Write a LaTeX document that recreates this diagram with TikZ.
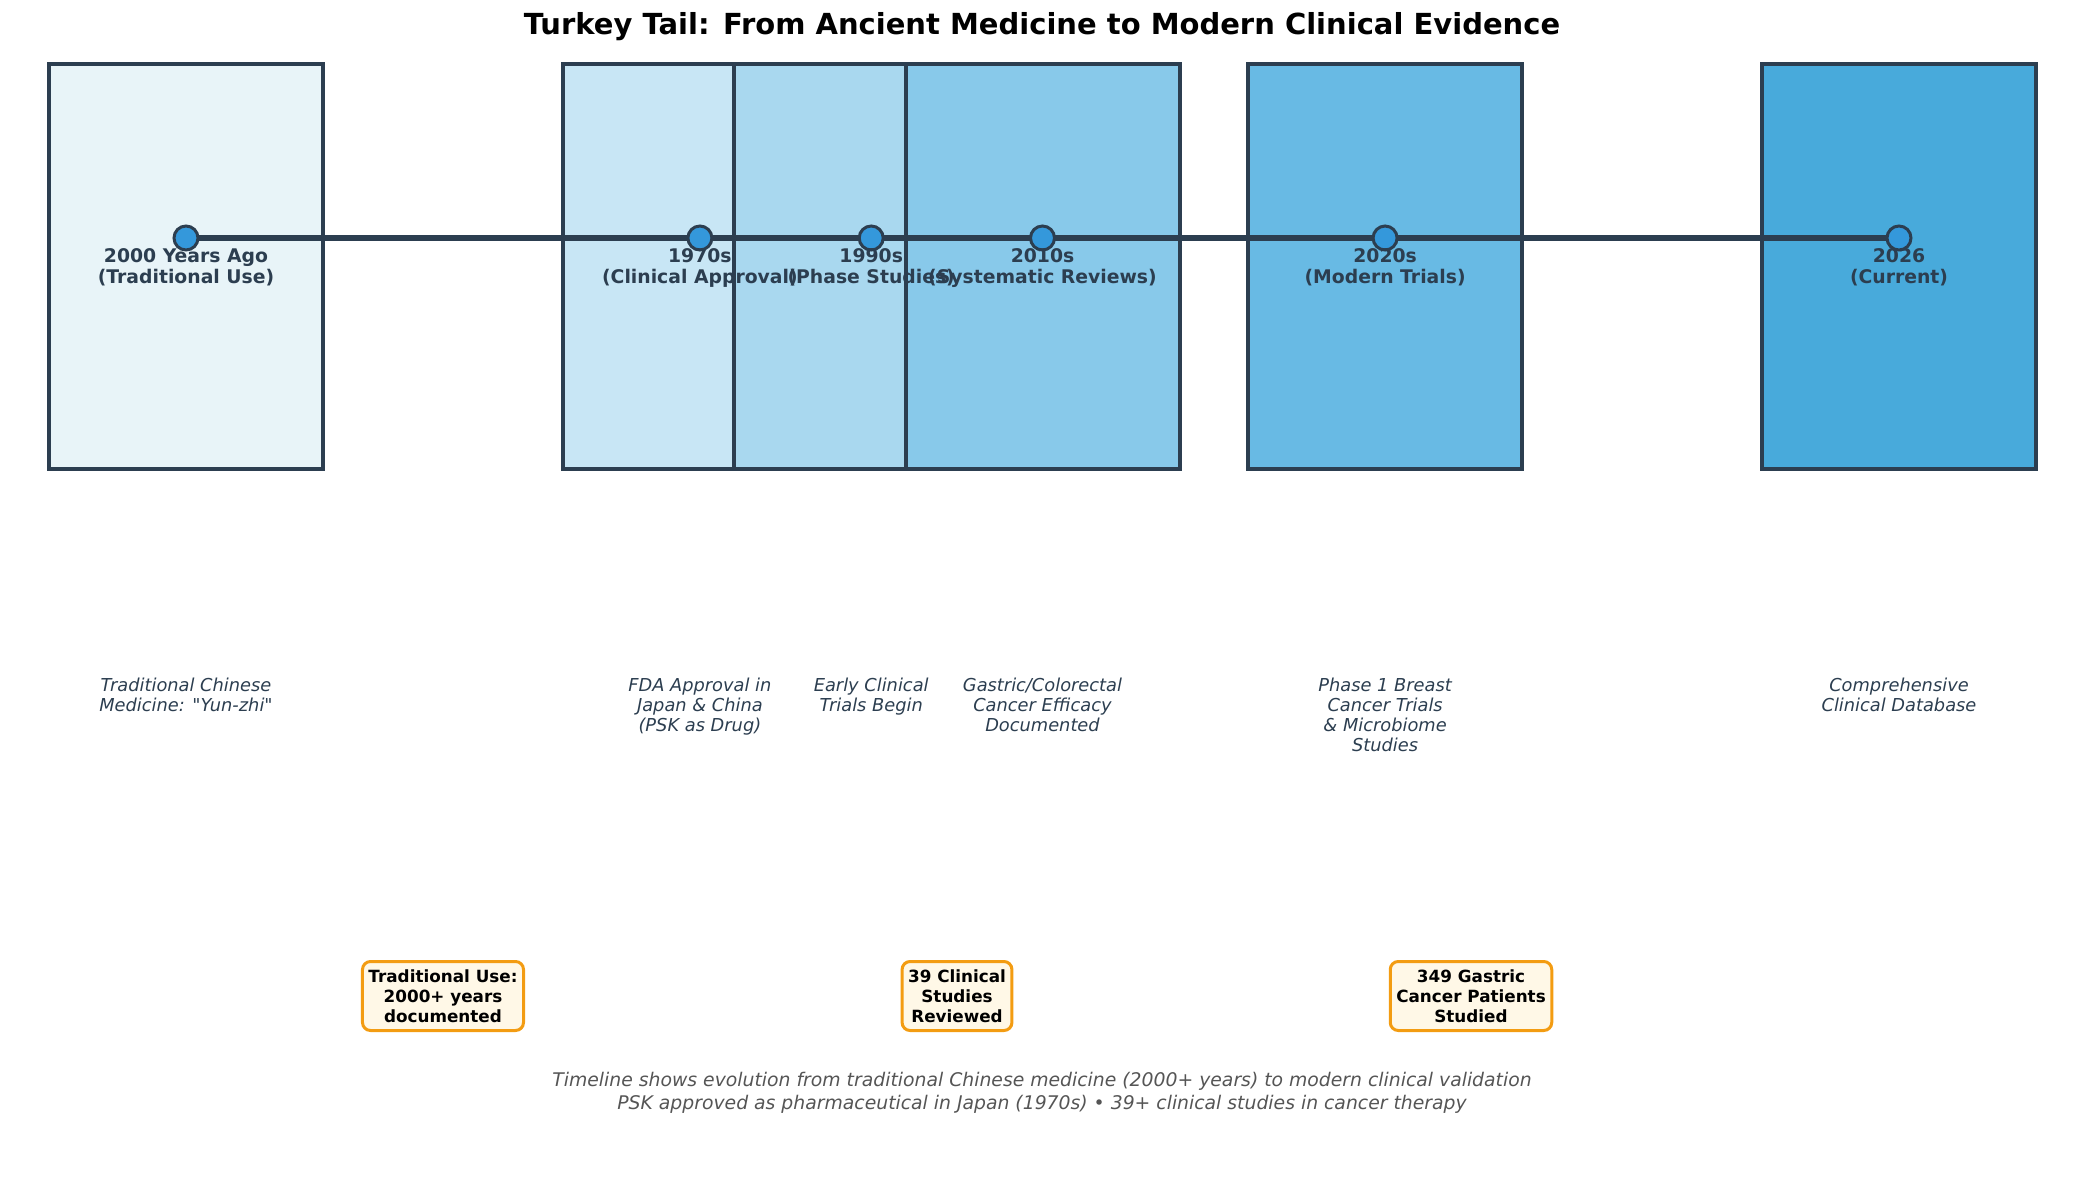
\documentclass[tikz,border=0pt]{standalone}
\usepackage{fontspec}
\setmainfont{DejaVu Sans}
\usetikzlibrary{positioning}

\definecolor{navy}{HTML}{2C3E50}
\definecolor{dotblue}{HTML}{3498DB}
\definecolor{eraA}{HTML}{E8F4F8}
\definecolor{eraB}{HTML}{C8E6F5}
\definecolor{eraC}{HTML}{A9D8EF}
\definecolor{eraD}{HTML}{88C9EA}
\definecolor{eraE}{HTML}{68BAE4}
\definecolor{eraF}{HTML}{48AADB}
\definecolor{factfill}{HTML}{FFF8E7}
\definecolor{factedge}{HTML}{F39C12}
\definecolor{footgray}{HTML}{555555}

\begin{document}
\begin{tikzpicture}[x=0.5pt, y=-0.5pt,
    era/.style={draw=navy, line width=2pt, minimum width=137pt, minimum height=202.5pt, inner sep=0pt},
    dot/.style={circle, draw=navy, fill=dotblue, line width=1.5pt, minimum size=12pt, inner sep=0pt},
    timeline/.style={navy, line width=3pt},
    when/.style={anchor=north, align=center, text=navy, font=\fontsize{9.4}{10.8}\selectfont\bfseries},
    desc/.style={anchor=north, align=center, text=navy, font=\fontsize{8.9}{10}\selectfont\itshape},
    fact/.style={draw=factedge, fill=factfill, line width=1.5pt, rounded corners=4pt, align=center,
                 inner xsep=3pt, inner ysep=4pt, font=\fontsize{8.4}{10}\selectfont\bfseries},
    note/.style={align=center, text=footgray, font=\fontsize{9.4}{11.3}\selectfont\itshape}]
    \useasboundingbox (0,0) rectangle (2085,1183);

    % Era boxes
    \node[era, fill=eraA] (eraAncient)  at (186,266.5)  {};
    \node[era, fill=eraB] (eraApproval) at (699.9,266.5) {};
    \node[era, fill=eraC] (eraPhase)    at (871.2,266.5) {};
    \node[era, fill=eraD] (eraReviews)  at (1042.5,266.5) {};
    \node[era, fill=eraE] (eraModern)   at (1385.1,266.5) {};
    \node[era, fill=eraF] (eraCurrent)  at (1899,266.5) {};

    % Timeline points
    \coordinate (ancient)  at (186,238);
    \coordinate (approval) at (699.9,238);
    \coordinate (phase)    at (871.2,238);
    \coordinate (reviews)  at (1042.5,238);
    \coordinate (modern)   at (1385.1,238);
    \coordinate (current)  at (1899,238);

    \draw[timeline] (ancient) -- (current);

    \node[dot] (dotAncient)  at (ancient)  {};
    \node[dot] (dotApproval) at (approval) {};
    \node[dot] (dotPhase)    at (phase)    {};
    \node[dot] (dotReviews)  at (reviews)  {};
    \node[dot] (dotModern)   at (modern)   {};
    \node[dot] (dotCurrent)  at (current)  {};

    % Period labels
    \node[when] (whenAncient)  at (186,241)    {2000 Years Ago\\(Traditional Use)};
    \node[when] (whenApproval) at (699.9,241)  {1970s\\(Clinical Approval)};
    \node[when] (whenPhase)    at (871.2,241)  {1990s\\(Phase Studies)};
    \node[when] (whenReviews)  at (1042.5,241) {2010s\\(Systematic Reviews)};
    \node[when] (whenModern)   at (1385.1,241) {2020s\\(Modern Trials)};
    \node[when] (whenCurrent)  at (1899,241)   {2026\\(Current)};

    % Descriptions
    \node[desc] (descAncient)  at (186,671)    {Traditional Chinese\\Medicine: \textquotedbl Yun-zhi\textquotedbl};
    \node[desc] (descApproval) at (699.9,671)  {FDA Approval in\\Japan \& China\\(PSK as Drug)};
    \node[desc] (descPhase)    at (871.2,671)  {Early Clinical\\Trials Begin};
    \node[desc] (descReviews)  at (1042.5,671) {Gastric/Colorectal\\Cancer Efficacy\\Documented};
    \node[desc] (descModern)   at (1385.1,671) {Phase 1 Breast\\Cancer Trials\\\& Microbiome\\Studies};
    \node[desc] (descCurrent)  at (1899,671)   {Comprehensive\\Clinical Database};

    % Key facts
    \node[fact] (factUse)      at (443,996)  {Traditional Use:\\2000+ years\\documented};
    \node[fact] (factStudies)  at (957,996)  {39 Clinical\\Studies\\Reviewed};
    \node[fact] (factPatients) at (1471,996) {349 Gastric\\Cancer Patients\\Studied};

    % Title and footnote
    \node[font=\fontsize{14.5}{17}\selectfont\bfseries] (title) at (1042,27)
        {Turkey Tail: From Ancient Medicine to Modern Clinical Evidence};
    \node[note] (footer) at (1042,1093)
        {Timeline shows evolution from traditional Chinese medicine (2000+ years) to modern clinical validation\\
         PSK approved as pharmaceutical in Japan (1970s) • 39+ clinical studies in cancer therapy};
\end{tikzpicture}
\end{document}
